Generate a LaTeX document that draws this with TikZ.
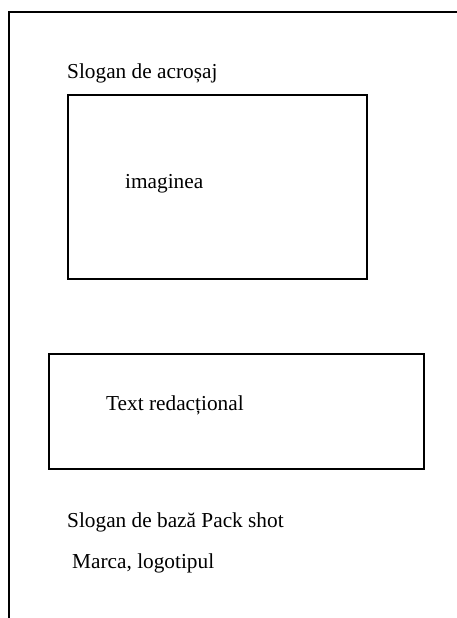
\documentclass[tikz,border=0pt]{standalone}
\usepackage{fontspec}
\setmainfont{Liberation Serif}
\tikzset{
  frameline/.style={line width=2pt, line cap=rect},
  panel/.style={draw, line width=2pt, inner sep=0pt, anchor=north west},
  caption/.style={anchor=base west, inner sep=0pt, font=\fontsize{21.3}{25}\selectfont},
}
\begin{document}
\begin{tikzpicture}[x=1pt, y=-1pt]
  \useasboundingbox (0,0) rectangle (456,618);
  % page frame: top edge and left edge only
  \coordinate (ftr) at (456,12);
  \coordinate (ftl) at (9,12);
  \coordinate (fbl) at (9,618);
  \draw[frameline] (ftr) -- (ftl) -- (fbl);

  % header slogan
  \node[caption] (slogan) at (67,78) {Slogan de acroșaj};

  % image area
  \node[panel, minimum width=299pt, minimum height=184pt] (imgbox) at (67,94) {};
  \node[caption] (imgtxt) at (125,188) {imaginea};

  % body copy area
  \node[panel, minimum width=375pt, minimum height=115pt] (txtbox) at (48,353) {};
  \node[caption] (bodytxt) at (106,410) {Text redacțional};

  % footer
  \node[caption] (base) at (67,527) {Slogan de bază Pack shot};
  \node[caption] (brand) at (72,568) {Marca, logotipul};
\end{tikzpicture}
\end{document}
